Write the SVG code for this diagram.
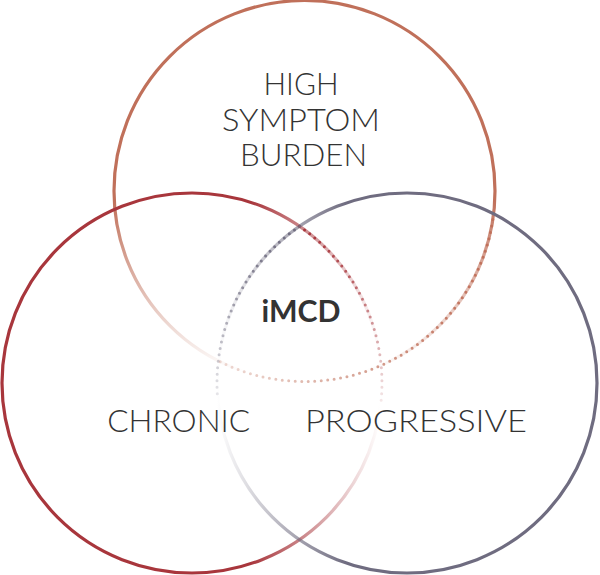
<svg xmlns="http://www.w3.org/2000/svg" width="600" height="575" viewBox="0 0 600 575">
  <style>
    .ring { fill: none; stroke-width: 3.2; }
    .dots { fill: none; stroke-width: 3; stroke-linecap: round; stroke-dasharray: 0 6.5; }
    .lbl { font-family: "Lato", "Liberation Sans", sans-serif; font-weight: 300; font-size: 32px; fill: #333333; text-anchor: middle; }
    .core { font-family: "Lato", "Liberation Sans", sans-serif; font-weight: 700; font-size: 30px; fill: #333333; text-anchor: middle; }
  </style>
  <defs>
    <linearGradient id="gTop" gradientUnits="userSpaceOnUse" x1="0" y1="200" x2="0" y2="372">
      <stop offset="0" stop-color="#c0705a" stop-opacity="1"/>
      <stop offset="0.55" stop-color="#c0705a" stop-opacity="0.45"/>
      <stop offset="1" stop-color="#c0705a" stop-opacity="0"/>
    </linearGradient>
    <linearGradient id="gLeft" gradientUnits="userSpaceOnUse" x1="250" y1="0" x2="380" y2="0">
      <stop offset="0" stop-color="#a8363c" stop-opacity="1"/>
      <stop offset="1" stop-color="#a8363c" stop-opacity="0"/>
    </linearGradient>
    <linearGradient id="gRight" gradientUnits="userSpaceOnUse" x1="217" y1="0" x2="347" y2="0">
      <stop offset="0" stop-color="#6f6c80" stop-opacity="0"/>
      <stop offset="1" stop-color="#6f6c80" stop-opacity="1"/>
    </linearGradient>
    <linearGradient id="dTop" gradientUnits="userSpaceOnUse" x1="490" y1="0" x2="220" y2="0">
      <stop offset="0" stop-color="#c0705a" stop-opacity="1"/>
      <stop offset="1" stop-color="#c0705a" stop-opacity="0.25"/>
    </linearGradient>
    <linearGradient id="dLeft" gradientUnits="userSpaceOnUse" x1="0" y1="226" x2="0" y2="405">
      <stop offset="0" stop-color="#a8363c" stop-opacity="1"/>
      <stop offset="1" stop-color="#a8363c" stop-opacity="0.1"/>
    </linearGradient>
    <linearGradient id="dRight" gradientUnits="userSpaceOnUse" x1="0" y1="226" x2="0" y2="400">
      <stop offset="0" stop-color="#6f6c80" stop-opacity="1"/>
      <stop offset="1" stop-color="#6f6c80" stop-opacity="0.15"/>
    </linearGradient>
  </defs>

  <g id="connectors">
    <path class="dots" stroke="url(#dTop)" d="M 493.7 213.2 A 190.5 190.5 0 0 1 218 360.7"/>
    <path class="dots" stroke="url(#dLeft)" d="M 299.3 226.2 A 190 190 0 0 1 380.7 404.8"/>
    <path class="dots" stroke="url(#dRight)" d="M 299.7 226.2 A 190 190 0 0 0 217.7 399.6"/>
  </g>

  <g id="high-symptom-burden">
    <circle class="ring" cx="304.5" cy="191" r="190.5" stroke="url(#gTop)"/>
    <text class="lbl" x="301" y="95" textLength="75" lengthAdjust="spacingAndGlyphs">HIGH</text>
    <text class="lbl" x="301" y="130.5" textLength="158" lengthAdjust="spacingAndGlyphs">SYMPTOM</text>
    <text class="lbl" x="303.5" y="166" textLength="127" lengthAdjust="spacingAndGlyphs">BURDEN</text>
  </g>

  <g id="chronic">
    <circle class="ring" cx="192" cy="383" r="190" stroke="url(#gLeft)"/>
    <text class="lbl" x="178.7" y="432" textLength="143" lengthAdjust="spacingAndGlyphs">CHRONIC</text>
  </g>

  <g id="progressive">
    <circle class="ring" cx="407" cy="383" r="190" stroke="url(#gRight)"/>
    <text class="lbl" x="416" y="432" textLength="222" lengthAdjust="spacingAndGlyphs">PROGRESSIVE</text>
  </g>

  <g id="imcd">
    <text class="core" x="301" y="321.5" textLength="79" lengthAdjust="spacingAndGlyphs">iMCD</text>
  </g>
</svg>
